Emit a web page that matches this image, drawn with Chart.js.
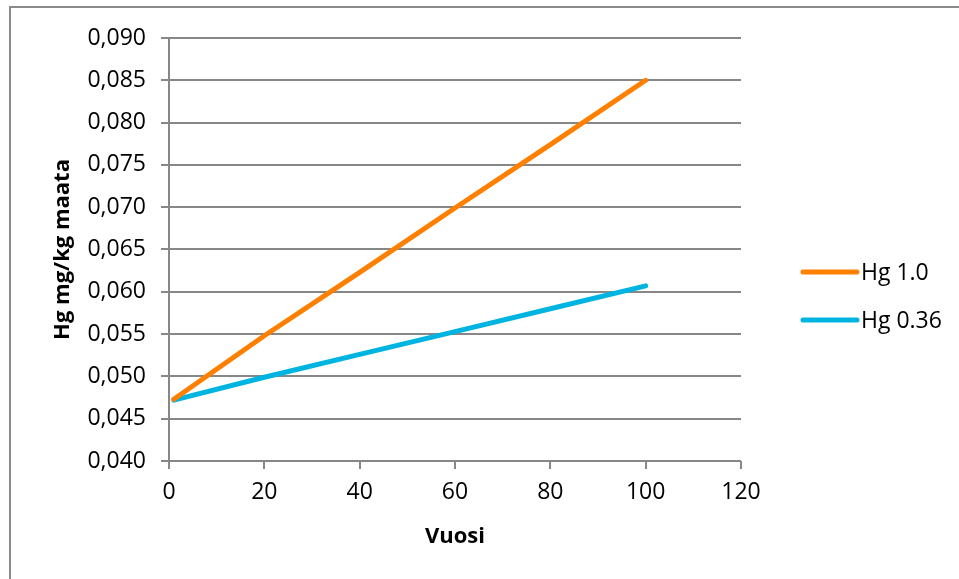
<!DOCTYPE html>
<html>
<head>
<meta charset="utf-8">
<script src="https://cdn.jsdelivr.net/npm/chart.js@4/dist/chart.umd.min.js"></script>
<style>
  html, body { margin: 0; padding: 0; background: #fff; }
  #wrap { position: relative; width: 959px; height: 579px; overflow: hidden; }
  #frame { position: absolute; left: 9px; top: 6px; right: -4px; bottom: -4px;
           border-left: 2px solid #8a8a8a; border-top: 2px solid #8a8a8a; }
  canvas { position: absolute; left: 0; top: 0; }
</style>
</head>
<body>
<div id="wrap">
  <div id="frame"></div>
  <canvas id="c" width="959" height="579"></canvas>
</div>
<script>
// Years since start
const years = [1, 20, 40, 60, 80, 100];
// Soil mercury content, mg/kg
const hg10 = [0.0473, 0.0548, 0.0623, 0.0699, 0.0774, 0.0850];
const hg036 = [0.0472, 0.0499, 0.0526, 0.0553, 0.0580, 0.0607];
const seriesNames = ['Hg 1.0', 'Hg 0.36'];
const seriesColors = ['#ff8000', '#00b4e1'];

const FONT = "'Open Sans', 'Liberation Sans', sans-serif";
const GRID = '#878787';

const toPoints = (ys) => years.map((x, i) => ({ x, y: ys[i] }));

// Legend drawn at the right, beside the plot
const sideLegend = {
  id: 'sideLegend',
  afterDraw(chart) {
    const ctx = chart.ctx;
    const x0 = 803, x1 = 857, tx = 861;
    const rows = [272, 320];
    ctx.save();
    chart.data.datasets.forEach((ds, i) => {
      const y = rows[i];
      ctx.strokeStyle = ds.borderColor;
      ctx.lineWidth = 5;
      ctx.lineCap = 'round';
      ctx.beginPath();
      ctx.moveTo(x0, y);
      ctx.lineTo(x1, y);
      ctx.stroke();
      ctx.fillStyle = '#000';
      ctx.font = '23px ' + FONT;
      ctx.textAlign = 'left';
      ctx.textBaseline = 'middle';
      ctx.fillText(ds.label, tx, y + 1);
    });
    ctx.restore();
  }
};

new Chart(document.getElementById('c'), {
  type: 'line',
  data: {
    datasets: [
      { label: seriesNames[0], data: toPoints(hg10), borderColor: seriesColors[0],
        borderWidth: 5, pointRadius: 0, borderCapStyle: 'round', tension: 0 },
      { label: seriesNames[1], data: toPoints(hg036), borderColor: seriesColors[1],
        borderWidth: 5, pointRadius: 0, borderCapStyle: 'round', tension: 0 }
    ]
  },
  options: {
    responsive: false,
    animation: false,
    layout: { padding: { left: 50, top: 38, right: 218, bottom: 20 } },
    plugins: { legend: { display: false }, tooltip: { enabled: false } },
    scales: {
      x: {
        type: 'linear', min: 0, max: 120,
        ticks: { stepSize: 20, color: '#000', font: { family: FONT, size: 23 }, padding: 10 },
        grid: { drawOnChartArea: false, drawTicks: true, tickLength: 8, color: GRID, lineWidth: 2 },
        border: { display: false },
        title: { display: true, text: 'Vuosi', color: '#000',
                 font: { family: FONT, size: 22, weight: 'bold' }, padding: { top: 0, bottom: 9 } },
        afterFit(s) { s.height = 579 - 20 - 461; }
      },
      y: {
        min: 0.04, max: 0.09,
        ticks: { stepSize: 0.005, color: '#000', font: { family: FONT, size: 23 }, padding: 15,
                 callback: (v) => v.toFixed(3).replace('.', ',') },
        grid: { drawTicks: true, tickLength: 8, color: GRID, lineWidth: 2 },
        border: { display: true, color: GRID, width: 2 },
        title: { display: true, text: 'Hg mg/kg maata', color: '#000',
                 font: { family: FONT, size: 22, weight: 'bold' }, padding: { top: 0, bottom: 0 } },
        afterFit(s) { s.width = 169 - 50; }
      }
    }
  },
  plugins: [sideLegend]
});
</script>
</body>
</html>
